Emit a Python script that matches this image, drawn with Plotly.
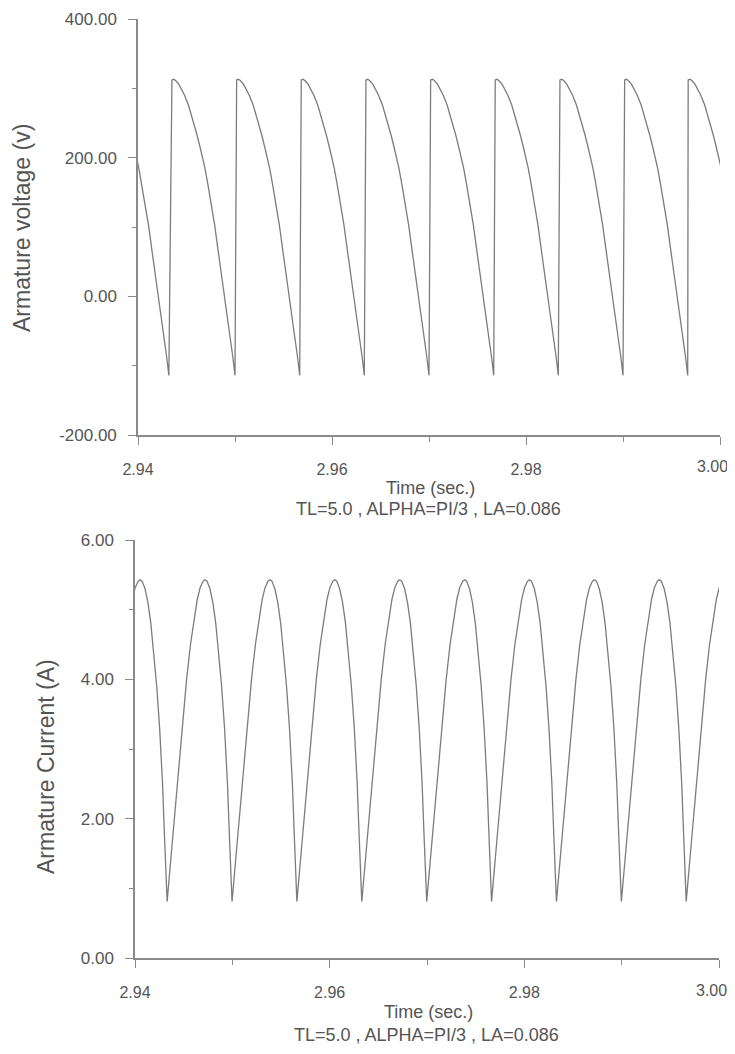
import plotly.graph_objects as go

# instants where the armature voltage jumps up
volt_starts = [2.93668, 2.94350, 2.95017, 2.95683, 2.96350, 2.97017,
               2.97683, 2.98350, 2.99017, 2.99672]
# one period of the voltage, seconds after each jump / volts
volt_offsets = [0.0, 0.0002, 0.0004, 0.0007, 0.0010, 0.0013, 0.0017, 0.0020, 0.0023,
                0.0026, 0.0029, 0.0032, 0.0034, 0.0037, 0.0039, 0.0042, 0.0044, 0.0047,
                0.0049, 0.0051, 0.0053, 0.0056, 0.0058, 0.0061, 0.0063, 0.0065]
volt_shape = [312, 313, 311, 306, 299, 290, 276, 262, 247,
              232, 215, 198, 185, 162, 146, 120, 103, 72,
              52, 33, 14, -17, -38, -70, -90, -114]

# instants of the current minima
curr_starts = [2.93663, 2.94330, 2.94997, 2.95663, 2.96330, 2.96997,
               2.97663, 2.98330, 2.98997, 2.99663]
# one period of the current, seconds after each minimum / amperes
curr_offsets = [0.0, 0.0004, 0.0008, 0.0012, 0.0016, 0.0020, 0.0024, 0.0028, 0.0031,
                0.0034, 0.0037, 0.0039, 0.0041, 0.0044, 0.0047, 0.0050, 0.0053, 0.0056,
                0.0059, 0.0062, 0.0064, 0.0066]
curr_shape = [0.81, 1.45, 2.10, 2.80, 3.45, 4.00, 4.50, 4.90, 5.15,
              5.32, 5.41, 5.43, 5.41, 5.30, 5.10, 4.80, 4.38, 3.90,
              3.30, 2.50, 1.75, 1.00]

x_ticks = [2.94, 2.96, 2.98, 3.00]
volt_ticks = [-200, 0, 200, 400]
curr_ticks = [0, 2, 4, 6]
subtitle = "TL=5.0 , ALPHA=PI/3 , LA=0.086"

volt_t, volt_v = [], []
for s in volt_starts:
    volt_t += [s + o for o in volt_offsets]
    volt_v += volt_shape
curr_t, curr_i = [], []
for s in curr_starts:
    curr_t += [s + o for o in curr_offsets]
    curr_i += curr_shape

# the page body has an 8px margin, so the figure is drawn 8px in from the window
OFF = 8
W, H = 735 - OFF, 1054 - 2 * OFF
LINE = "#8a8a8a"
TEXT = "#555555"
FONT = "Liberation Sans, Arial, sans-serif"

fig = go.Figure()
fig.add_trace(go.Scatter(x=volt_t, y=volt_v, mode="lines", xaxis="x", yaxis="y",
                         line=dict(color="#7c7c7c", width=1.3), showlegend=False))
fig.add_trace(go.Scatter(x=curr_t, y=curr_i, mode="lines", xaxis="x2", yaxis="y2",
                         line=dict(color="#7c7c7c", width=1.3), showlegend=False))

axis_style = dict(showline=True, linecolor=LINE, linewidth=1.5, showgrid=False, zeroline=False,
                  ticks="outside", ticklen=8, tickcolor=LINE, tickwidth=1.2, automargin=False,
                  ticklabeloverflow="allow")
y_font = dict(family=FONT, size=17, color=TEXT)
x_font = dict(family=FONT, size=16, color=TEXT)


def px_x(p):
    return (p - OFF) / W


def px_y(p):
    return 1 - (p - OFF) / H


def fmt(vals):
    return ["%.2f" % v for v in vals]


# the last x label sits at the window edge, so it is drawn as an annotation nudged left
x_text = fmt(x_ticks[:-1]) + [""]

fig.update_layout(
    width=W, height=H, autosize=False,
    margin=dict(l=0, r=0, t=0, b=0),
    paper_bgcolor="white", plot_bgcolor="white",
    xaxis=dict(domain=[px_x(138), px_x(720)], range=[2.94, 3.00], tickvals=x_ticks,
               ticktext=x_text, anchor="y", ticklabelstandoff=11, tickfont=x_font,
               minor=dict(dtick=0.01, tick0=2.94, ticks="outside", ticklen=5, tickcolor=LINE), **axis_style),
    yaxis=dict(domain=[px_y(435), px_y(19)], range=[-200, 400], tickvals=volt_ticks,
               ticktext=fmt(volt_ticks), anchor="x", ticklabelstandoff=8, tickfont=y_font,
               minor=dict(dtick=100, tick0=-200, ticks="outside", ticklen=4, tickcolor=LINE), **axis_style),
    xaxis2=dict(domain=[px_x(135), px_x(719)], range=[2.94, 3.00], tickvals=x_ticks,
                ticktext=x_text, anchor="y2", ticklabelstandoff=11, tickfont=x_font,
                minor=dict(dtick=0.01, tick0=2.94, ticks="outside", ticklen=5, tickcolor=LINE), **axis_style),
    yaxis2=dict(domain=[px_y(958), px_y(540)], range=[0, 6], tickvals=curr_ticks,
                ticktext=fmt(curr_ticks), anchor="x2", ticklabelstandoff=8, tickfont=y_font,
                minor=dict(dtick=1, tick0=0, ticks="outside", ticklen=4, tickcolor=LINE), **axis_style),
)

for xref, y in (("x", 467), ("x2", 990)):
    fig.add_annotation(text=fmt(x_ticks)[-1], x=x_ticks[-1], xref=xref, y=px_y(y), yref="paper",
                       showarrow=False, xshift=10, font=x_font,
                       xanchor="right", yanchor="middle")

notes = [
    ("Armature voltage (v)", 22, 228, -90, 23),
    ("Armature Current (A)", 46, 767, -90, 23),
    ("Time (sec.)", 430, 488, 0, 18),
    (subtitle, 428, 509, 0, 18),
    ("Time (sec.)", 428, 1012, 0, 18),
    (subtitle, 426, 1035, 0, 18),
]
for text, x, y, ang, size in notes:
    fig.add_annotation(text=text, x=px_x(x), y=px_y(y), xref="paper", yref="paper",
                       showarrow=False, textangle=ang,
                       font=dict(family=FONT, size=size, color=TEXT),
                       xanchor="center", yanchor="middle")

fig.write_html("out.html")
